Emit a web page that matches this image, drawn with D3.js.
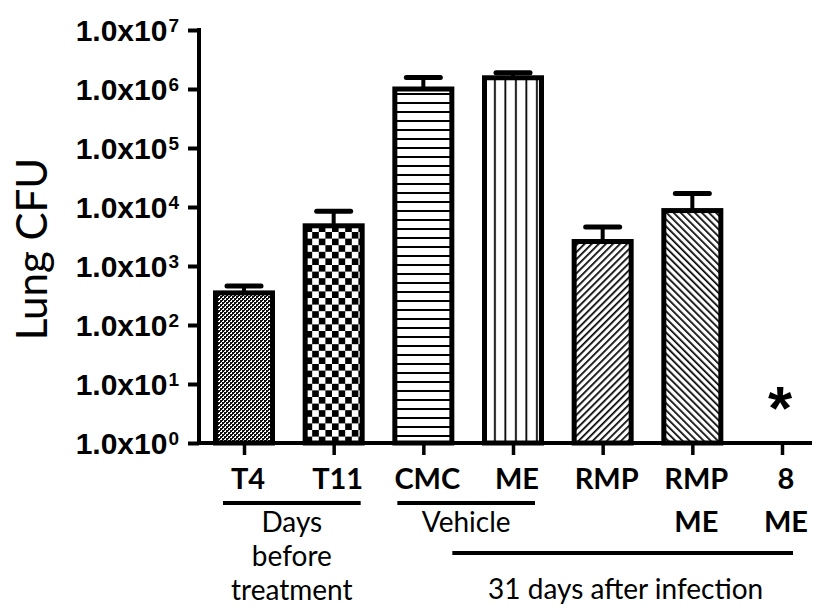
<!DOCTYPE html>
<html>
<head>
<meta charset="utf-8">
<script src="https://cdn.jsdelivr.net/npm/d3@7"></script>
<style>
  html, body { margin: 0; padding: 0; background: #fff; }
  svg { display: block; }
</style>
</head>
<body>
<svg id="chart" width="822" height="607"></svg>
<script>
// ---- data ----
const categories = ["T4", "T11", "CMC", "ME", "RMP", "RMP ME", "8 ME"];
const categoryLines = [["T4"], ["T11"], ["CMC"], ["ME"], ["RMP"], ["RMP", "ME"], ["8", "ME"]];
const meanCFU  = [350, 4800, 1.0e6, 1.55e6, 2600, 8700, null];
const upperCFU = [460, 8500, 1.57e6, 1.89e6, 4600, 17000, null];
const patterns = ["fine", "checker", "hlines", "vlines", "diagUp", "diagDown", null];
const yTickValues = [1, 10, 100, 1e3, 1e4, 1e5, 1e6, 1e7];
const yTickExponents = ["0", "1", "2", "3", "4", "5", "6", "7"];
const yTitle = "Lung CFU";
const groupLabels = [["Days", "before", "treatment"], ["Vehicle"], ["31 days after infection"]];
const groupFrom = ["T4", "CMC", "CMC"];
const groupTo = ["T11", "ME", "8 ME"];
const belowDetection = ["8 ME"];
const asteriskLevel = 4.8; // CFU level where the asterisk is placed

// ---- layout ----
const svg = d3.select("#chart");
const x = d3.scalePoint().domain(categories).range([244, 782]);
const y = d3.scaleLog().domain([1, 1e7]).range([443, 30]);
const barW = 57;

const defs = svg.append("defs");
function pat(id, w, h) {
  return defs.append("pattern").attr("id", id).attr("patternUnits", "userSpaceOnUse")
    .attr("width", w).attr("height", h);
}
let p = pat("fine", 4, 4);
p.append("rect").attr("width", 4).attr("height", 4).attr("fill", "#fff");
p.append("rect").attr("width", 2).attr("height", 2).attr("fill", "#111");
p.append("rect").attr("x", 2).attr("y", 2).attr("width", 2).attr("height", 2).attr("fill", "#111");
p.append("rect").attr("x", 2).attr("y", 0).attr("width", 1).attr("height", 1).attr("fill", "#111");
p.append("rect").attr("x", 0).attr("y", 2).attr("width", 1).attr("height", 1).attr("fill", "#111");

p = pat("checker", 13.2, 13.2).attr("x", 2).attr("y", 1);
p.append("rect").attr("width", 13.2).attr("height", 13.2).attr("fill", "#fff");
p.append("rect").attr("width", 6.6).attr("height", 6.6).attr("fill", "#000");
p.append("rect").attr("x", 6.6).attr("y", 6.6).attr("width", 6.6).attr("height", 6.6).attr("fill", "#000");

p = pat("hlines", 10, 9);
p.append("rect").attr("width", 10).attr("height", 9).attr("fill", "#fff");
p.append("rect").attr("y", 3).attr("width", 10).attr("height", 2).attr("fill", "#000");

p = pat("vlines", 10.5, 10).attr("x", 490);
p.append("rect").attr("width", 10.5).attr("height", 10).attr("fill", "#fff");
p.append("rect").attr("x", 4).attr("width", 1.8).attr("height", 10).attr("fill", "#000");

p = pat("diagUp", 5, 5).attr("patternTransform", "rotate(45)");
p.append("rect").attr("width", 5).attr("height", 5).attr("fill", "#fff");
p.append("rect").attr("width", 1.7).attr("height", 5).attr("fill", "#000");

p = pat("diagDown", 5, 5).attr("patternTransform", "rotate(-45)");
p.append("rect").attr("width", 5).attr("height", 5).attr("fill", "#fff");
p.append("rect").attr("width", 1.7).attr("height", 5).attr("fill", "#000");

const data = categories.map((c, i) => ({
  cat: c, mean: meanCFU[i], upper: upperCFU[i], pattern: patterns[i], lines: categoryLines[i]
}));
const barData = data.filter(d => d.mean != null);

// bars
svg.append("g").selectAll("rect").data(barData).join("rect")
  .attr("x", d => x(d.cat) - barW / 2)
  .attr("y", d => y(d.mean))
  .attr("width", barW)
  .attr("height", d => y(1) - y(d.mean))
  .attr("fill", d => `url(#${d.pattern})`)
  .attr("stroke", "#000")
  .attr("stroke-width", 5);

// error bars
const eg = svg.append("g").attr("stroke", "#000");
eg.selectAll("line.v").data(barData).join("line").attr("class", "v")
  .attr("x1", d => x(d.cat)).attr("x2", d => x(d.cat))
  .attr("y1", d => y(d.mean)).attr("y2", d => y(d.upper))
  .attr("stroke-width", 4);
eg.selectAll("line.cap").data(barData).join("line").attr("class", "cap")
  .attr("x1", d => x(d.cat) - 17).attr("x2", d => x(d.cat) + 17)
  .attr("y1", d => y(d.upper)).attr("y2", d => y(d.upper))
  .attr("stroke-width", 5).attr("stroke-linecap", "round");

// asterisk
svg.append("g").selectAll("text").data(belowDetection).join("text")
  .attr("x", d => x(d) - 2)
  .attr("y", y(asteriskLevel) + 26)
  .attr("text-anchor", "middle")
  .attr("font-family", "Liberation Sans, Arial, sans-serif")
  .attr("font-weight", "bold")
  .attr("font-size", 62)
  .text("*");

// y axis
const yAxis = d3.axisLeft(y).tickValues(yTickValues).tickSize(11).tickSizeOuter(0).tickFormat("");
const yg = svg.append("g").attr("transform", "translate(199,0)").call(yAxis);
yg.select(".domain").attr("stroke-width", 4).attr("d", `M0,${y(1e7) - 2}V${y(1) + 2}`);
yg.selectAll(".tick line").attr("stroke-width", 4);
yg.selectAll(".tick").each(function(d, i) {
  const t = d3.select(this).append("text")
    .attr("x", -20).attr("y", 10.5)
    .attr("fill", "#000")
    .attr("text-anchor", "end")
    .attr("font-family", "Liberation Sans, Arial, sans-serif")
    .attr("font-weight", "bold")
    .attr("font-size", 30);
  t.append("tspan").text("1.0x10");
  t.append("tspan").attr("font-size", 19).attr("dy", -9).attr("dx", 1).text(yTickExponents[i]);
});

// x axis
const xAxis = d3.axisBottom(x).tickSize(12).tickSizeOuter(0).tickFormat("");
const xg = svg.append("g").attr("transform", `translate(0,${y(1)})`).call(xAxis);
xg.select(".domain").attr("stroke-width", 4).attr("d", "M197,0H812");
xg.selectAll(".tick line").attr("stroke-width", 3.5);

// category labels
const lab = svg.append("g")
  .attr("font-family", "Lato, sans-serif").attr("font-weight", "bold").attr("font-size", 29)
  .attr("text-anchor", "middle").attr("fill", "#000");
data.forEach(d => {
  d.lines.forEach((ln, j) => {
    lab.append("text").attr("x", x(d.cat) + 4).attr("y", 489 + j * 43).text(ln);
  });
});

// group lines + labels
const gg = svg.append("g").attr("font-family", "Lato, sans-serif").attr("font-size", 28)
  .attr("text-anchor", "middle").attr("fill", "#000");
const groupX = [
  [x(groupFrom[0]) - 21, x(groupTo[0]) + 27, 503],
  [x(groupFrom[1]) - 26, x(groupTo[1]) + 22, 503],
  [x(groupFrom[2]) + 29, x(groupTo[2]) + 11, 553]
];
groupLabels.forEach((lines, i) => {
  const [a, b, ly] = groupX[i];
  gg.append("line").attr("x1", a).attr("x2", b).attr("y1", ly).attr("y2", ly)
    .attr("stroke", "#000").attr("stroke-width", 4);
  lines.forEach((ln, j) => {
    gg.append("text").attr("x", (a + b) / 2 + (i === 2 ? 3 : 0))
      .attr("y", ly + 29 + j * 34 + (i === 2 ? 17 : 0)).text(ln);
  });
});

// y title
svg.append("text")
  .attr("transform", "translate(47,249) rotate(-90)")
  .attr("text-anchor", "middle")
  .attr("font-family", "Lato, sans-serif")
  .attr("font-size", 42)
  .attr("fill", "#000")
  .text(yTitle);
</script>
</body>
</html>
